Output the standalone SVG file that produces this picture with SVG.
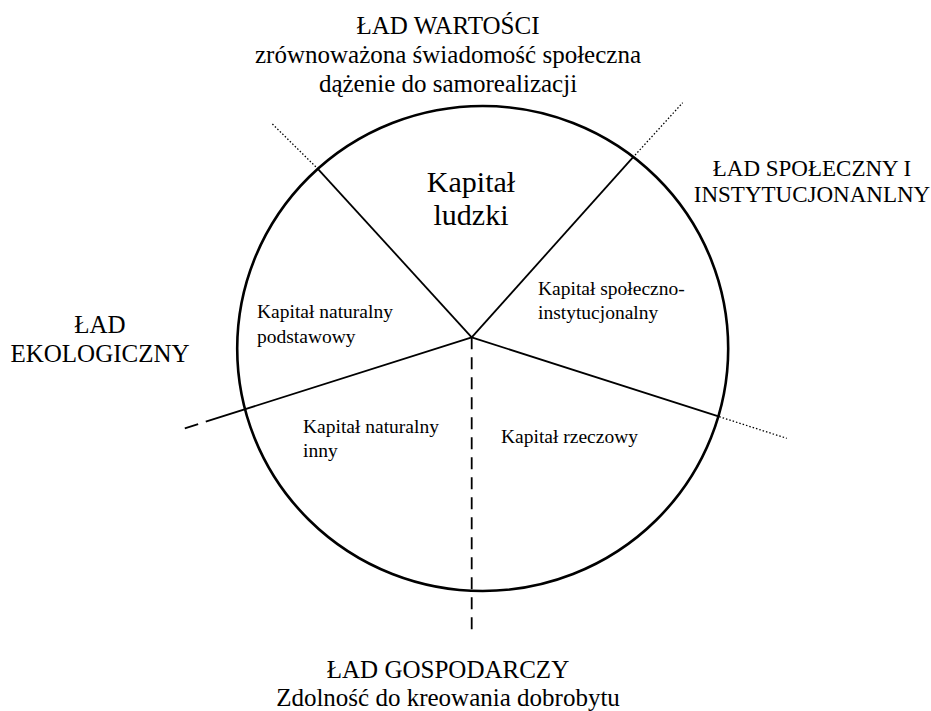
<svg xmlns="http://www.w3.org/2000/svg" width="931" height="711" viewBox="0 0 931 711">
<style>
text{font-family:"Liberation Serif","Times New Roman",serif;fill:#000}
.t{font-size:25px;text-anchor:middle}
.big{font-size:30px;text-anchor:middle}
.s{font-size:19.5px}
.spoke{stroke:#000;stroke-width:1.8;fill:none}
.dot{stroke:#000;stroke-width:1.3;stroke-dasharray:1.5 2;fill:none}
</style>
<rect width="931" height="711" fill="#fff"/>
<g id="circle">
<ellipse cx="482.7" cy="348.5" rx="245.5" ry="242.5" fill="none" stroke="#000" stroke-width="2.6"/>
</g>
<g id="connectors">
<line class="spoke" x1="471.7" y1="337.3" x2="318.3" y2="169.3"/>
<line class="dot" x1="318.3" y1="169.3" x2="271.7" y2="123.3"/>
<line class="spoke" x1="471.7" y1="337.3" x2="632.7" y2="157.7"/>
<line class="dot" x1="632.7" y1="157.7" x2="682.7" y2="102.7"/>
<line class="spoke" x1="471.7" y1="337.3" x2="719.3" y2="416.7"/>
<line class="dot" x1="719.3" y1="416.7" x2="786.7" y2="438.3"/>
<line class="spoke" x1="471.7" y1="337.3" x2="184.3" y2="428.5" stroke-dasharray="279 8 14 100"/>
<line class="spoke" x1="471.7" y1="337.3" x2="471.7" y2="637" stroke-dasharray="12 8"/>
</g>
<g id="lad-wartosci">
<text class="t" x="448" y="34">ŁAD WARTOŚCI</text>
<text class="t" x="448" y="63">zrównoważona świadomość społeczna</text>
<text class="t" x="448" y="92">dążenie do samorealizacji</text>
</g>
<g id="lad-spoleczny">
<text class="t" x="812" y="176" style="font-size:23px">ŁAD SPOŁECZNY I</text>
<text class="t" x="812" y="202" style="font-size:23px">INSTYTUCJONANLNY</text>
</g>
<g id="lad-ekologiczny">
<text class="t" x="100" y="333">ŁAD</text>
<text class="t" x="100" y="362">EKOLOGICZNY</text>
</g>
<g id="lad-gospodarczy">
<text class="t" x="448" y="678">ŁAD GOSPODARCZY</text>
<text class="t" x="448" y="706">Zdolność do kreowania dobrobytu</text>
</g>
<g id="kapital-ludzki">
<text class="big" x="471" y="192">Kapitał</text>
<text class="big" x="471" y="225">ludzki</text>
</g>
<g id="kapital-spoleczno">
<text class="s" x="538" y="295">Kapitał społeczno-</text>
<text class="s" x="538" y="319">instytucjonalny</text>
</g>
<g id="kapital-naturalny-podstawowy">
<text class="s" x="257" y="318">Kapitał naturalny</text>
<text class="s" x="257" y="343">podstawowy</text>
</g>
<g id="kapital-naturalny-inny">
<text class="s" x="303" y="433">Kapitał naturalny</text>
<text class="s" x="303" y="457">inny</text>
</g>
<g id="kapital-rzeczowy">
<text class="s" x="501" y="443">Kapitał rzeczowy</text>
</g>
</svg>
